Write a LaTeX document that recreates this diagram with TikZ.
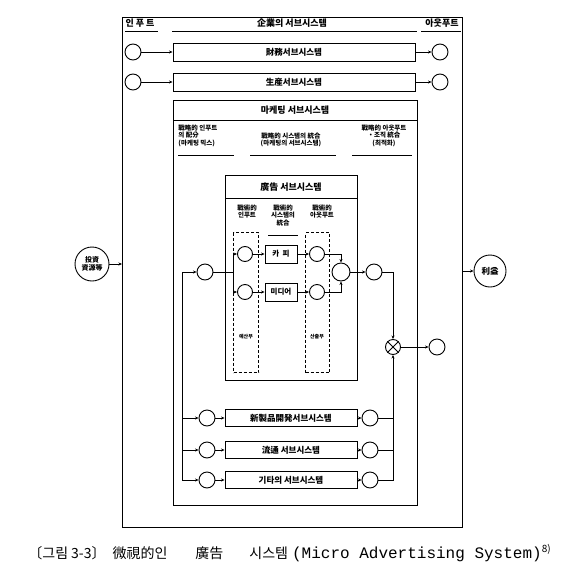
\documentclass[tikz,border=0pt]{standalone}
\usepackage{fontspec}
\setmainfont{Noto Sans CJK KR}
\newfontfamily\capmono{Liberation Mono}
\usetikzlibrary{arrows.meta}
\begin{document}
\begin{tikzpicture}[x=1pt,y=-1pt,line width=0.9pt,
 cir/.style={circle,draw,minimum size=16pt,inner sep=0pt},
 sbox/.style={draw,rectangle,minimum height=18pt,inner sep=1pt,font=\fontsize{8.5}{9}\selectfont\bfseries},
 arr/.style={-{Stealth[length=3.5pt,width=3pt]}},
 lbl/.style={font=\fontsize{6.5}{7.8}\selectfont\bfseries,inner sep=0pt},
 hdr/.style={font=\fontsize{9}{9}\selectfont\bfseries,inner sep=0pt},
 dbox/.style={draw,dash pattern=on 3pt off 2pt,line width=1.1pt,inner sep=0pt},
 frm/.style={draw,inner sep=0pt,anchor=north west}
]
\useasboundingbox (0,0) rectangle (568,576);
% frames
\node[frm,minimum width=340pt,minimum height=510pt] (frame) at (122,17) {};
\node[frm,minimum width=244pt,minimum height=405pt] (mk) at (173,100) {};
\node[frm,minimum width=132pt,minimum height=205pt] (ad) at (225,175) {};
\node[dbox,anchor=north west,minimum width=25pt,minimum height=140pt] (dl) at (233,232) {};
\node[dbox,anchor=north west,minimum width=24pt,minimum height=140pt] (dr) at (305,232) {};
% headers
\node[hdr] (h1) at (140,23) {인 푸 트};
\node[hdr] (h2) at (292,23) {企業의 서브시스템};
\node[hdr] (h3) at (442,23) {아웃푸트};
\draw (125,31) -- (158,31) (172,31) -- (417,31) (421,31) -- (461,31);
% rows 1,2
\node[cir] (i1) at (133,52) {};
\node[sbox,minimum width=242pt] (b1) at (294,52) {財務서브시스템};
\node[cir] (o1) at (440,52) {};
\node[cir] (i2) at (133,82) {};
\node[sbox,minimum width=242pt] (b2) at (294,82) {生産서브시스템};
\node[cir] (o2) at (440,82) {};
\draw[arr] (i1) -- (b1); \draw[arr] (b1) -- (o1);
\draw[arr] (i2) -- (b2); \draw[arr] (b2) -- (o2);
% marketing
\node[hdr] (mt) at (295,110) {마케팅 서브시스템};
\draw (173,120) -- (417,120);
\node[lbl,anchor=north west,align=left] (mc1) at (178,124) {戰略的 인푸트\\의 配分\\(마케팅 믹스)};
\node[lbl,anchor=north,align=center] (mc2) at (291,132) {戰略的 시스템의 統合\\(마케팅의 서브시스템)};
\node[lbl,anchor=north,align=center] (mc3) at (384,124) {戰略的 아웃푸트\\・조직 統合\\(최적화)};
\draw (178,155) -- (234,155) (250,155) -- (336,155) (352,155) -- (412,155);
% advertising
\node[hdr] (at) at (291,187) {廣告 서브시스템};
\draw (225,198) -- (357,198);
\node[lbl,anchor=north,align=center] (ac1) at (247,204) {戰術的\\인푸트};
\node[lbl,anchor=north,align=center] (ac2) at (283,204) {戰術的\\시스템의\\統合};
\node[lbl,anchor=north,align=center] (ac3) at (322,204) {戰術的\\아웃푸트};
\draw (268,235) -- (298,235);
\node[font=\fontsize{5}{5}\selectfont\bfseries,inner sep=0pt] (dlt) at (246,337) {예산부};
\node[font=\fontsize{5}{5}\selectfont\bfseries,inner sep=0pt] (drt) at (317,337) {산출부};
\node[cir,minimum size=15pt] (a1) at (245,254) {};
\node[cir,minimum size=15pt] (a2) at (245,292) {};
\node[cir,minimum size=15pt] (c1) at (317,254) {};
\node[cir,minimum size=15pt] (c2) at (317,292) {};
\node[sbox,minimum width=32pt,font=\fontsize{7.5}{8}\selectfont\bfseries] (cp) at (281,254) {카\ \ 피};
\node[sbox,minimum width=32pt,font=\fontsize{7.5}{8}\selectfont\bfseries] (md) at (281,292) {미디어};
\node[cir,minimum size=18pt] (m) at (341,272) {};
\node[cir,minimum size=16pt] (mi) at (205,272) {};
\node[cir,minimum size=16pt] (mo) at (374,272) {};
\coordinate (sp) at (233,272);
\draw (mi) -- (sp);
\draw[arr] (sp) |- (a1); \draw[arr] (sp) |- (a2);
\draw[arr] (a1) -- (cp); \draw[arr] (a2) -- (md);
\draw[arr] (cp) -- (c1); \draw[arr] (md) -- (c2);
\draw[arr] (c1) -| (m); \draw[arr] (c2) -| (m);
\draw[arr] (m) -- (mo);
% combiner
\node[circle,draw,minimum size=15pt,inner sep=0pt] (x) at (393,347) {};
\draw (x.45) -- (x.225) (x.135) -- (x.315);
\node[cir] (xo) at (437,347) {};
\draw[arr] (mo) -| (x);
\draw[arr] (x) -- (xo);
% lower subsystems
\node[cir] (l1) at (207,418) {};
\node[sbox,minimum width=132pt,minimum height=17pt] (s1) at (291,418) {新製品開発서브시스템};
\node[cir] (r1) at (370,418) {};
\node[cir] (l2) at (207,450) {};
\node[sbox,minimum width=132pt,minimum height=17pt] (s2) at (291,450) {流通 서브시스템};
\node[cir] (r2) at (370,450) {};
\node[cir] (l3) at (207,480) {};
\node[sbox,minimum width=132pt,minimum height=17pt] (s3) at (291,480) {기타의 서브시스템};
\node[cir] (r3) at (370,480) {};
\coordinate (lv) at (182,272);
\draw[arr] (lv) -- (mi);
\draw[arr] (lv) |- (l3);
\draw[arr] (lv |- l1) -- (l1);
\draw[arr] (lv |- l2) -- (l2);
\draw[arr] (l1) -- (s1); \draw[arr] (s1) -- (r1);
\draw[arr] (l2) -- (s2); \draw[arr] (s2) -- (r2);
\draw[arr] (l3) -- (s3); \draw[arr] (s3) -- (r3);
\draw (r1) -- (r1 -| x);
\draw (r2) -- (r2 -| x);
\draw[arr] (r3) -| (x);
% outside circles
\node[circle,draw,minimum size=34pt,inner sep=0pt,align=center,font=\fontsize{7}{7.5}\selectfont\bfseries] (inv) at (92,264) {投資\\資源等};
\node[circle,draw,minimum size=32pt,inner sep=0pt,font=\fontsize{8.5}{9}\selectfont\bfseries] (pr) at (490,271) {利益};
\draw[arr] (inv) -- (inv -| frame.west);
\draw[arr] (frame.east |- pr) -- (pr);
% caption
\node[anchor=west,inner sep=0pt,font=\fontsize{14}{15}\selectfont] (cap) at (28,553) {〔그림\hspace{3pt}3-3〕\hspace{7pt}微視的인\hspace{28pt}廣告\hspace{26pt}시스템\hspace{4pt}{\capmono\fontsize{16}{16}\selectfont (Micro Advertising System)}\raisebox{6pt}{\fontsize{10}{10}\selectfont 8)}};
\end{tikzpicture}
\end{document}
